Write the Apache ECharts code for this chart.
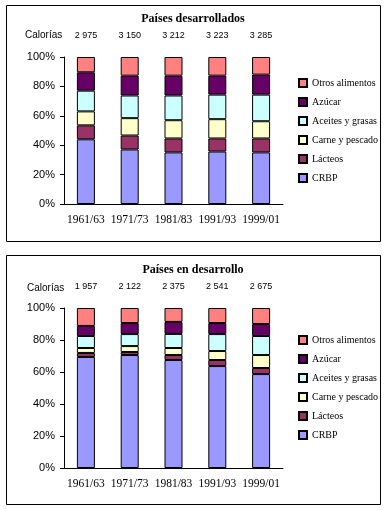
<!DOCTYPE html>
<html>
<head>
<meta charset="utf-8">
<script src="https://cdn.jsdelivr.net/npm/echarts@6/dist/echarts.min.js"></script>
<style>
  html, body { margin: 0; padding: 0; background: #fff; }
  #chart { width: 384px; height: 510px; }
</style>
</head>
<body>
<div id="chart"></div>
<script>
// datos (porcentaje de calorías)
var periodos = ['1961/63', '1971/73', '1981/83', '1991/93', '1999/01'];
var grupos = ['CRBP', 'Lácteos', 'Carne y pescado', 'Aceites y grasas', 'Azúcar', 'Otros alimentos'];

// países desarrollados
var calDes = ['2 975', '3 150', '3 212', '3 223', '3 285'];
var desCRBP    = [44.0, 37.1, 35.1, 35.7, 35.1];
var desLacteos = [9.5, 9.5, 9.5, 8.9, 9.5];
var desCarne   = [9.5, 11.8, 12.4, 13.1, 11.7];
var desAceites = [14.1, 15.4, 16.8, 16.7, 18.1];
var desAzucar  = [12.5, 13.5, 13.5, 12.9, 13.6];
var desOtros   = [10.4, 12.7, 12.7, 12.7, 12.0];

// países en desarrollo
var calEnd = ['1 957', '2 122', '2 375', '2 541', '2 675'];
var endCRBP    = [69.4, 70.6, 67.5, 63.7, 58.7];
var endLacteos = [2.5, 1.9, 3.1, 3.8, 3.8];
var endCarne   = [3.1, 3.7, 4.4, 5.6, 8.1];
var endAceites = [7.5, 7.5, 8.8, 10.6, 11.9];
var endAzucar  = [6.3, 6.9, 7.5, 6.9, 7.5];
var endOtros   = [11.2, 9.4, 8.7, 9.4, 10.0];

var yTicks = [0, 20, 40, 60, 80, 100];

var colores = ['#9999FF', '#993366', '#FFFFCC', '#CCFFFF', '#660066', '#FF8080'];
var serif = 'Liberation Serif, Times New Roman, serif';
var sans = 'Liberation Sans, Arial, sans-serif';

var myChart = echarts.init(document.getElementById('chart'));

var desData = [desCRBP, desLacteos, desCarne, desAceites, desAzucar, desOtros];
var endData = [endCRBP, endLacteos, endCarne, endAceites, endAzucar, endOtros];

function makeSeries(datos, xIdx, yIdx, stack) {
  return grupos.map(function (nombre, i) {
    return {
      name: nombre,
      type: 'bar',
      stack: stack,
      xAxisIndex: xIdx,
      yAxisIndex: yIdx,
      barWidth: 18,
      data: datos[i],
      itemStyle: { color: colores[i], borderColor: '#000', borderWidth: 1 },
      emphasis: { disabled: true }
    };
  });
}

function xBottom(idx) {
  return {
    type: 'category',
    gridIndex: idx,
    data: periodos,
    axisLine: { lineStyle: { color: '#000', width: 1 } },
    axisTick: { length: 4, lineStyle: { color: '#000' } },
    axisLabel: { color: '#000', fontFamily: serif, fontSize: 11.5, margin: 10,
                 interval: 0, hideOverlap: false }
  };
}

function xTop(idx, cal) {
  return {
    type: 'category',
    gridIndex: idx,
    position: 'top',
    data: cal,
    axisLine: { show: false },
    axisTick: { show: false },
    axisLabel: { color: '#000', fontFamily: sans, fontSize: 9, margin: 17, interval: 0 }
  };
}

function yAxis(idx) {
  return {
    type: 'value',
    gridIndex: idx,
    min: yTicks[0],
    max: yTicks[yTicks.length - 1],
    interval: 20,
    axisLine: { show: true, lineStyle: { color: '#000', width: 1 } },
    axisTick: { show: true, length: 4, lineStyle: { color: '#000' } },
    splitLine: { show: false },
    axisLabel: { color: '#000', fontFamily: sans, fontSize: 11, margin: 9, formatter: '{value}%' }
  };
}

function makeLegend(top) {
  return {
    orient: 'vertical',
    left: 298,
    top: top,
    padding: 0,
    icon: 'rect',
    itemWidth: 8,
    itemHeight: 8,
    itemGap: 7,
    data: grupos.slice().reverse(),
    selectedMode: false,
    textStyle: { color: '#000', fontFamily: serif, fontSize: 10, lineHeight: 12 }
  };
}

var series = makeSeries(desData, 0, 0, 'des').concat(makeSeries(endData, 2, 1, 'end'));

var option = {
  animation: false,
  title: [
    { text: 'Países desarrollados', left: 188, top: 8, textAlign: 'center',
      textStyle: { fontFamily: serif, fontSize: 12, fontWeight: 'bold', color: '#000' } },
    { text: 'Países en desarrollo', left: 188, top: 259, textAlign: 'center',
      textStyle: { fontFamily: serif, fontSize: 12, fontWeight: 'bold', color: '#000' } }
  ],
  legend: [makeLegend(77), makeLegend(334)],
  grid: [
    { left: 64, top: 57, width: 219, height: 147 },
    { left: 64, top: 308, width: 219, height: 160 }
  ],
  xAxis: [xBottom(0), xTop(0, calDes), xBottom(1), xTop(1, calEnd)],
  yAxis: [yAxis(0), yAxis(1)],
  series: series,
  graphic: [
    { type: 'rect', shape: { x: 6.5, y: 5.5, width: 374, height: 236 },
      style: { fill: 'none', stroke: '#000', lineWidth: 1 } },
    { type: 'rect', shape: { x: 6.5, y: 255.5, width: 374, height: 249 },
      style: { fill: 'none', stroke: '#000', lineWidth: 1 } },
    { type: 'text', left: 25, top: 30,
      style: { text: 'Calorías', fontFamily: sans, fontSize: 10, fill: '#000' } },
    { type: 'text', left: 27, top: 283,
      style: { text: 'Calorías', fontFamily: sans, fontSize: 10, fill: '#000' } }
  ]
};

myChart.setOption(option);
</script>
</body>
</html>
